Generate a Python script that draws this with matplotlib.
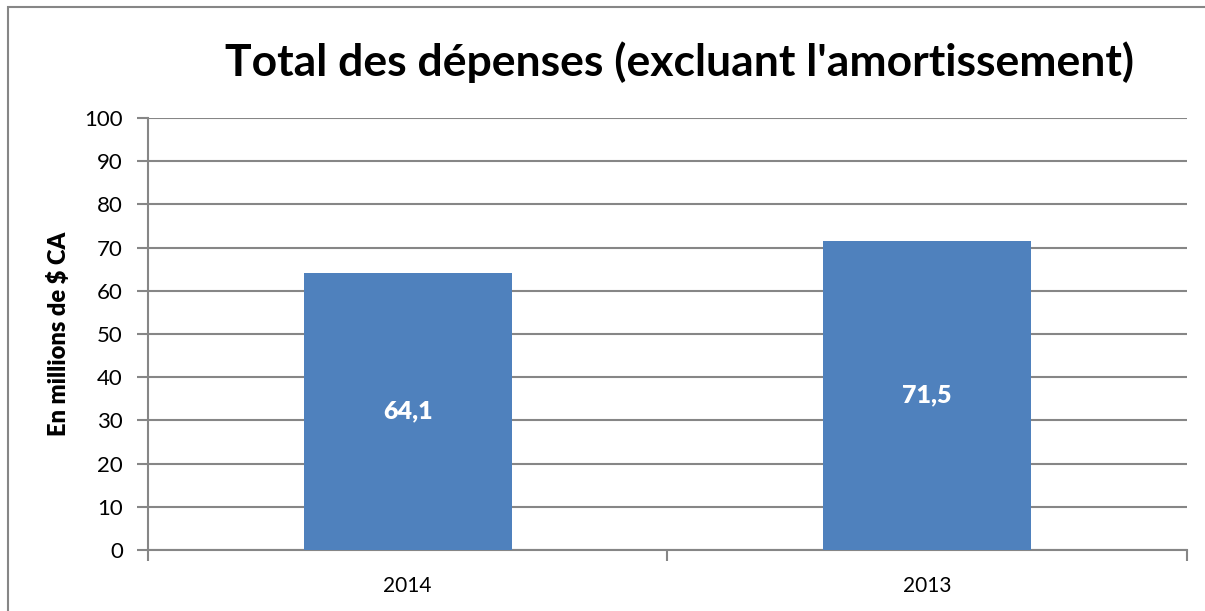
import matplotlib.pyplot as plt
from matplotlib.patches import Rectangle

# data
years = ['2014', '2013']
totals = [64.1, 71.5]
labels = ['64,1', '71,5']
y_ticks = list(range(0, 101, 10))

bar_color = '#4F81BD'
grid_color = '#868686'

plt.rcParams['font.family'] = ['Lato', 'DejaVu Sans']

fig = plt.figure(figsize=(12.05, 6.11), dpi=100)
ax = fig.add_axes([0.1228, 0.0998, 0.985 - 0.1228, 0.8069 - 0.0998])

x = range(len(years))
bars = ax.bar(x, totals, width=0.4, color=bar_color, zorder=3)
for b, lab in zip(bars, labels):
    ax.text(b.get_x() + b.get_width() / 2, b.get_height() / 2, lab,
            ha='center', va='center', color='white', fontsize=18, fontweight='heavy', zorder=4)

ax.set_xlim(-0.5, 1.5)
ax.set_ylim(0, 100)
ax.set_yticks(y_ticks)
ax.set_yticklabels([str(t) for t in y_ticks], fontsize=16)
ax.set_xticks([0, 1])
ax.set_xticklabels(years, fontsize=15)
ax.set_xticks([-0.5, 0.5, 1.5], minor=True)
ax.tick_params(axis='x', which='major', length=0, pad=19)
ax.tick_params(axis='x', which='minor', length=8, color=grid_color, width=1.5)
ax.tick_params(axis='y', length=8, color=grid_color, width=1.5, pad=10)

ax.grid(axis='y', color=grid_color, linewidth=1.5, zorder=0)
for side in ['top', 'right']:
    ax.spines[side].set_visible(False)
for side in ['left', 'bottom']:
    ax.spines[side].set_color(grid_color)
    ax.spines[side].set_linewidth(1.5)

ax.set_ylabel('En millions de $ CA', fontsize=17, fontweight='heavy', labelpad=10)

fig.text(0.564, 0.899, "Total des dépenses (excluant l'amortissement)",
         ha='center', va='center', fontsize=32, fontweight='bold')

# outer chart border
fig.patches.append(Rectangle((8 / 1205, -0.05), 1.1, 1 - 7 / 611 + 0.05,
                             transform=fig.transFigure, fill=False,
                             edgecolor=grid_color, linewidth=1.5))

fig.savefig('out.png', dpi=100)
